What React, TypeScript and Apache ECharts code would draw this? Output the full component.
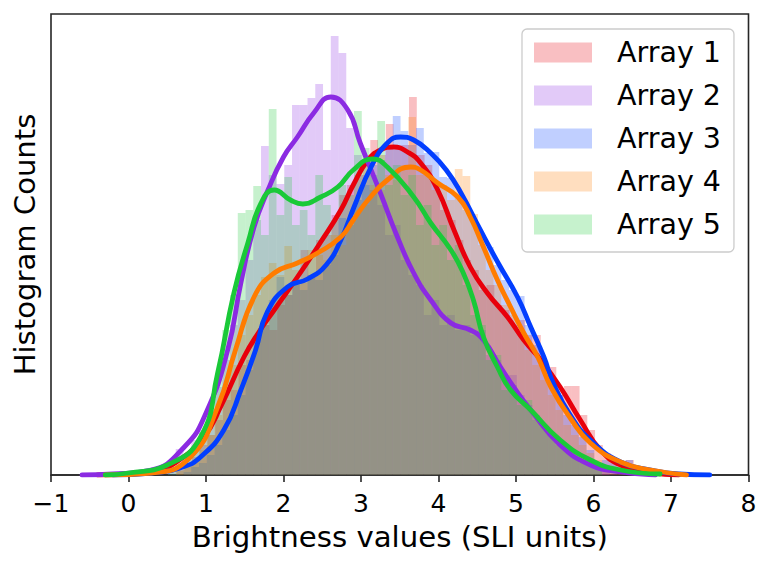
import React, { useEffect, useRef } from "react";
import * as echarts from "echarts";

// ---------- data ----------
const seriesNames = ["Array 1", "Array 2", "Array 3", "Array 4", "Array 5"];
const lineColors = ["#e8000b", "#8b2be2", "#023eff", "#ff7c00", "#1ac938"];
const legendColors = ["#f9bfc2", "#e2caf8", "#c0cfff", "#ffdebf", "#c6f2cd"];
const xTickLabels = ["\u22121", "0", "1", "2", "3", "4", "5", "6", "7", "8"];

// histogram bins: first left edge, bin width, heights
const hist1Start = 0.62;
const hist1Width = 0.1;
const hist1Counts = [5, 10, 18, 30, 40, 55, 75, 85, 110, 115, 140, 150, 145, 170, 180, 190, 225, 200, 235, 240, 260, 280, 290, 300, 310, 335, 320, 351, 325, 330, 378, 320, 310, 290, 265, 255, 235, 215, 205, 185, 190, 170, 165, 150, 155, 140, 140, 108, 108, 80, 89, 89, 60, 45, 30, 22, 15, 12, 15, 5];

const hist2Start = 0.51;
const hist2Width = 0.1;
const hist2Counts = [5, 26, 20, 35, 45, 65, 88, 115, 150, 175, 215, 255, 329, 300, 291, 310, 370, 370, 377, 391, 325, 439, 422, 347, 320, 300, 285, 270, 240, 250, 215, 200, 190, 160, 175, 150, 160, 145, 150, 140, 145, 120, 115, 95, 100, 80, 70, 60, 48, 40, 30, 25, 18, 12, 10, 6, 4];

const hist3Start = 0.71;
const hist3Width = 0.1;
const hist3Counts = [3, 8, 12, 20, 30, 45, 60, 80, 105, 135, 150, 175, 198, 180, 195, 185, 200, 195, 210, 220, 257, 250, 275, 290, 310, 315, 330, 359, 344, 330, 347, 322, 323, 298, 297, 280, 265, 255, 240, 228, 210, 195, 185, 179, 150, 130, 110, 95, 80, 60, 50, 38, 25, 10, 15, 12, 8, 15, 4];

const hist4Start = 0.61;
const hist4Width = 0.1;
const hist4Counts = [4, 8, 15, 25, 40, 60, 85, 110, 140, 160, 180, 198, 212, 200, 229, 205, 192, 225, 220, 215, 240, 230, 255, 265, 270, 290, 285, 300, 295, 310, 358, 300, 305, 285, 290, 275, 306, 299, 261, 230, 205, 190, 170, 160, 140, 125, 110, 95, 80, 65, 50, 40, 30, 22, 15, 10, 8, 5];

const hist5Start = 0.51;
const hist5Width = 0.1;
const hist5Counts = [5, 10, 15, 25, 42, 60, 95, 145, 180, 262, 265, 289, 240, 366, 260, 298, 250, 265, 240, 300, 270, 255, 290, 280, 364, 327, 300, 354, 290, 310, 280, 300, 250, 270, 230, 250, 215, 230, 190, 160, 150, 115, 120, 85, 90, 70, 75, 55, 50, 40, 35, 25, 22, 15, 12, 8];

// density curves: [x, y]
const kde1 = [[-0.4, 0], [0, 1], [0.3, 3], [0.6, 12], [0.97, 38], [1.2, 70], [1.49, 118], [1.7, 145], [1.88, 165], [2.18, 198], [2.48, 233], [2.74, 265], [2.9, 290], [3.09, 315], [3.25, 325], [3.42, 328], [3.6, 323], [3.77, 312], [3.99, 285], [4.2, 245], [4.41, 208], [4.63, 182], [4.89, 158], [5.1, 135], [5.32, 115], [5.57, 88], [5.83, 55], [6.09, 25], [6.35, 10], [6.74, 2], [7.1, 0]];
const kde2 = [[-0.6, 0], [-0.2, 1], [0.29, 5], [0.72, 28], [1.0, 62], [1.28, 125], [1.45, 192], [1.62, 248], [1.8, 285], [2.0, 318], [2.18, 338], [2.39, 362], [2.61, 378], [2.83, 365], [2.99, 332], [3.25, 282], [3.47, 238], [3.68, 202], [3.9, 175], [4.16, 152], [4.41, 145], [4.58, 135], [4.8, 108], [4.97, 88], [5.19, 65], [5.57, 30], [5.96, 10], [6.35, 3], [6.8, 0]];
const kde3 = [[-0.2, 0], [0.3, 2], [0.7, 8], [0.93, 18], [1.23, 45], [1.45, 85], [1.64, 125], [1.79, 163], [2.05, 188], [2.31, 196], [2.55, 210], [2.74, 235], [2.91, 268], [3.13, 308], [3.34, 332], [3.51, 338], [3.68, 335], [3.9, 322], [4.1, 305], [4.29, 282], [4.54, 245], [4.77, 212], [5.02, 178], [5.19, 148], [5.36, 118], [5.48, 92], [5.7, 60], [5.96, 35], [6.35, 13], [6.74, 5], [7.1, 1], [7.5, 0]];
const kde4 = [[-0.3, 0], [0.3, 2], [0.8, 18], [1.15, 68], [1.38, 125], [1.62, 178], [1.88, 202], [2.18, 212], [2.44, 222], [2.74, 238], [2.9, 255], [3.09, 275], [3.34, 295], [3.64, 308], [3.77, 305], [3.99, 292], [4.25, 278], [4.41, 258], [4.58, 228], [4.76, 195], [4.93, 168], [5.1, 142], [5.28, 118], [5.45, 88], [5.7, 57], [5.96, 32], [6.35, 13], [6.74, 5], [7.2, 0]];
const kde5 = [[-0.3, 0], [0, 2], [0.5, 10], [0.93, 38], [1.15, 102], [1.36, 182], [1.54, 232], [1.71, 272], [1.88, 285], [2.09, 275], [2.25, 271], [2.48, 278], [2.7, 288], [2.9, 305], [3.15, 316], [3.34, 308], [3.68, 278], [3.9, 252], [4.16, 225], [4.32, 202], [4.45, 175], [4.58, 138], [4.76, 108], [4.93, 85], [5.19, 65], [5.57, 35], [5.96, 15], [6.35, 5], [6.86, 1]];

const histStarts = [hist1Start, hist2Start, hist3Start, hist4Start, hist5Start];
const histWidths = [hist1Width, hist2Width, hist3Width, hist4Width, hist5Width];
const histCounts = [hist1Counts, hist2Counts, hist3Counts, hist4Counts, hist5Counts];
const kdes = [kde1, kde2, kde3, kde4, kde5];

const FONT = "DejaVu Sans";

function toBins(start: number, width: number, counts: number[]) {
  return counts.map((c, i) => [start + i * width, start + (i + 1) * width, c]);
}

export default function App() {
  const ref = useRef<HTMLDivElement>(null);
  useEffect(() => {
    if (!ref.current) return;
    const chart = echarts.init(ref.current, undefined, { renderer: "svg" });

    const histSeries = seriesNames.map((name, k) => ({
      type: "custom",
      name,
      z: 2,
      clip: true,
      encode: { x: [0, 1], y: 2 },
      itemStyle: { color: lineColors[k] },
      data: toBins(histStarts[k], histWidths[k], histCounts[k]),
      renderItem: (params: any, api: any) => {
        const a = api.coord([api.value(0), api.value(2)]);
        const b = api.coord([api.value(1), 0]);
        return {
          type: "rect",
          shape: { x: a[0], y: a[1], width: b[0] - a[0], height: b[1] - a[1] },
          style: { fill: lineColors[k], opacity: 0.25 },
        };
      },
    }));

    const lineSeries = seriesNames.map((name, k) => ({
      type: "line",
      name: name + " density",
      z: 3 + k,
      data: kdes[k],
      smooth: 0.5,
      showSymbol: false,
      symbol: "none",
      lineStyle: { color: lineColors[k], width: 4.8, cap: "round", join: "round" },
      itemStyle: { color: lineColors[k] },
      emphasis: { disabled: true },
    }));

    chart.setOption({
      animation: false,
      grid: {
        left: 51,
        right: 24.5,
        top: 14,
        bottom: 95,
        show: true,
        borderColor: "#262626",
        borderWidth: 1.6,
        backgroundColor: "transparent",
      },
      legend: {
        orient: "vertical",
        left: 522,
        top: 29,
        itemWidth: 58,
        itemHeight: 20,
        itemGap: 14,
        padding: [9, 13, 13, 12],
        borderColor: "#cccccc",
        borderWidth: 1.3,
        borderRadius: 5,
        backgroundColor: "rgba(255,255,255,0.8)",
        textStyle: { fontFamily: FONT, fontSize: 28.5, color: "#000", lineHeight: 28.6, padding: [0, 0, 0, 20] },
        data: seriesNames.map((n, i) => ({ name: n, icon: "rect", itemStyle: { color: legendColors[i], borderWidth: 0 } })),
        selectedMode: false,
      },
      xAxis: {
        type: "value",
        min: -1,
        max: 8,
        interval: 1,
        name: "Brightness values (SLI units)",
        nameLocation: "middle",
        nameGap: 47,
        nameTextStyle: { fontFamily: FONT, fontSize: 29.2, color: "#000" },
        axisLine: { show: true, onZero: false, lineStyle: { color: "#262626", width: 1.6 } },
        axisTick: { show: true, inside: false, length: 7, lineStyle: { color: "#262626", width: 1.6 } },
        axisLabel: {
          show: true,
          margin: 16,
          fontFamily: FONT,
          fontSize: 25,
          color: "#000",
          formatter: (v: number) => xTickLabels[Math.round(v) + 1],
        },
        splitLine: { show: false },
      },
      yAxis: {
        type: "value",
        min: 0,
        max: 461,
        name: "Histogram Counts",
        nameLocation: "middle",
        nameGap: 12,
        nameTextStyle: { fontFamily: FONT, fontSize: 29.1, color: "#000" },
        axisLine: { show: false },
        axisTick: { show: false },
        axisLabel: { show: false },
        splitLine: { show: false },
      },
      series: [...histSeries, ...lineSeries],
    });
    return () => chart.dispose();
  }, []);
  return <div ref={ref} style={{ position: "fixed", left: 0, top: 0, width: 773, height: 570, background: "#fff" }} />;
}
